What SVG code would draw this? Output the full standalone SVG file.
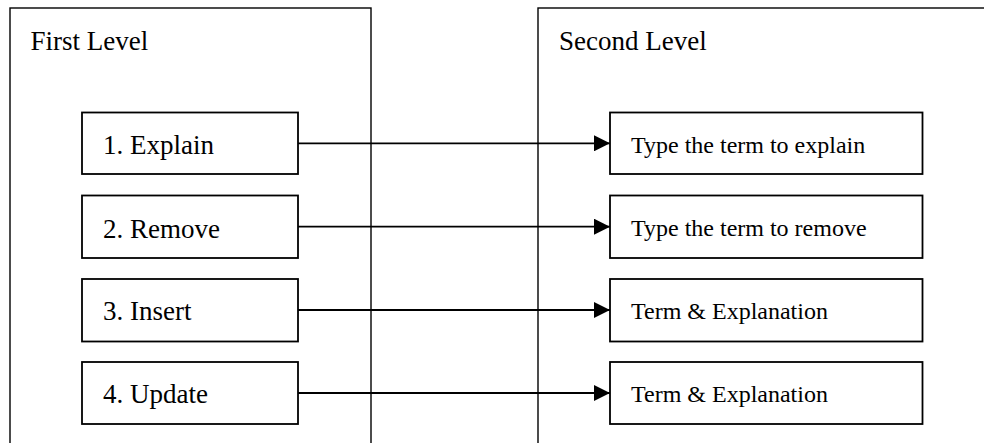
<svg xmlns="http://www.w3.org/2000/svg" width="984" height="443" viewBox="0 0 984 443">
<defs>
<style>
.panel{fill:#fff;stroke:#000;stroke-width:1.4}
.box{fill:#fff;stroke:#000;stroke-width:1.8}
.t1{font-family:"Liberation Serif","Times New Roman",serif;font-size:27px;fill:#000}
.t2{font-family:"Liberation Serif","Times New Roman",serif;font-size:24px;fill:#000}
.conn{stroke:#000;stroke-width:1.8;fill:none}
</style>
<marker id="arr" markerUnits="userSpaceOnUse" markerWidth="16" markerHeight="16" viewBox="0 0 16 16" refX="16" refY="8" orient="auto">
<path d="M0,0 L16,8 L0,16 Z" fill="#000"/>
</marker>
</defs>
<rect width="984" height="443" fill="#fff"/>
<g id="first-level">
<rect class="panel" x="10" y="8" width="361" height="450"/>
<text class="t1" x="30.5" y="50">First Level</text>
</g>
<g id="second-level">
<rect class="panel" x="538" y="8" width="460" height="450"/>
<text class="t1" x="559" y="50">Second Level</text>
</g>
<g id="connectors">
<line class="conn" x1="298" y1="143.3" x2="610" y2="143.3" marker-end="url(#arr)"/>
<line class="conn" x1="298" y1="226.7" x2="610" y2="226.7" marker-end="url(#arr)"/>
<line class="conn" x1="298" y1="310" x2="610" y2="310" marker-end="url(#arr)"/>
<line class="conn" x1="298" y1="393" x2="610" y2="393" marker-end="url(#arr)"/>
</g>
<g id="explain">
<rect class="box" x="82" y="112.5" width="216" height="61.5"/>
<text class="t1" x="103" y="154">1. Explain</text>
</g>
<g id="remove">
<rect class="box" x="82" y="195.5" width="216" height="62.5"/>
<text class="t1" x="103" y="237.5">2. Remove</text>
</g>
<g id="insert">
<rect class="box" x="82" y="279" width="216" height="62.5"/>
<text class="t1" x="103" y="320">3. Insert</text>
</g>
<g id="update">
<rect class="box" x="82" y="362" width="216" height="62"/>
<text class="t1" x="103" y="403">4. Update</text>
</g>
<g id="explain-term">
<rect class="box" x="610" y="112.5" width="312.5" height="61.5"/>
<text class="t2" x="631" y="152.7">Type the term to explain</text>
</g>
<g id="remove-term">
<rect class="box" x="610" y="195.5" width="312.5" height="62.5"/>
<text class="t2" x="631" y="235.8">Type the term to remove</text>
</g>
<g id="insert-term">
<rect class="box" x="610" y="279" width="312.5" height="62.5"/>
<text class="t2" x="631" y="319">Term &amp; Explanation</text>
</g>
<g id="update-term">
<rect class="box" x="610" y="362" width="312.5" height="62"/>
<text class="t2" x="631" y="402">Term &amp; Explanation</text>
</g>
</svg>
